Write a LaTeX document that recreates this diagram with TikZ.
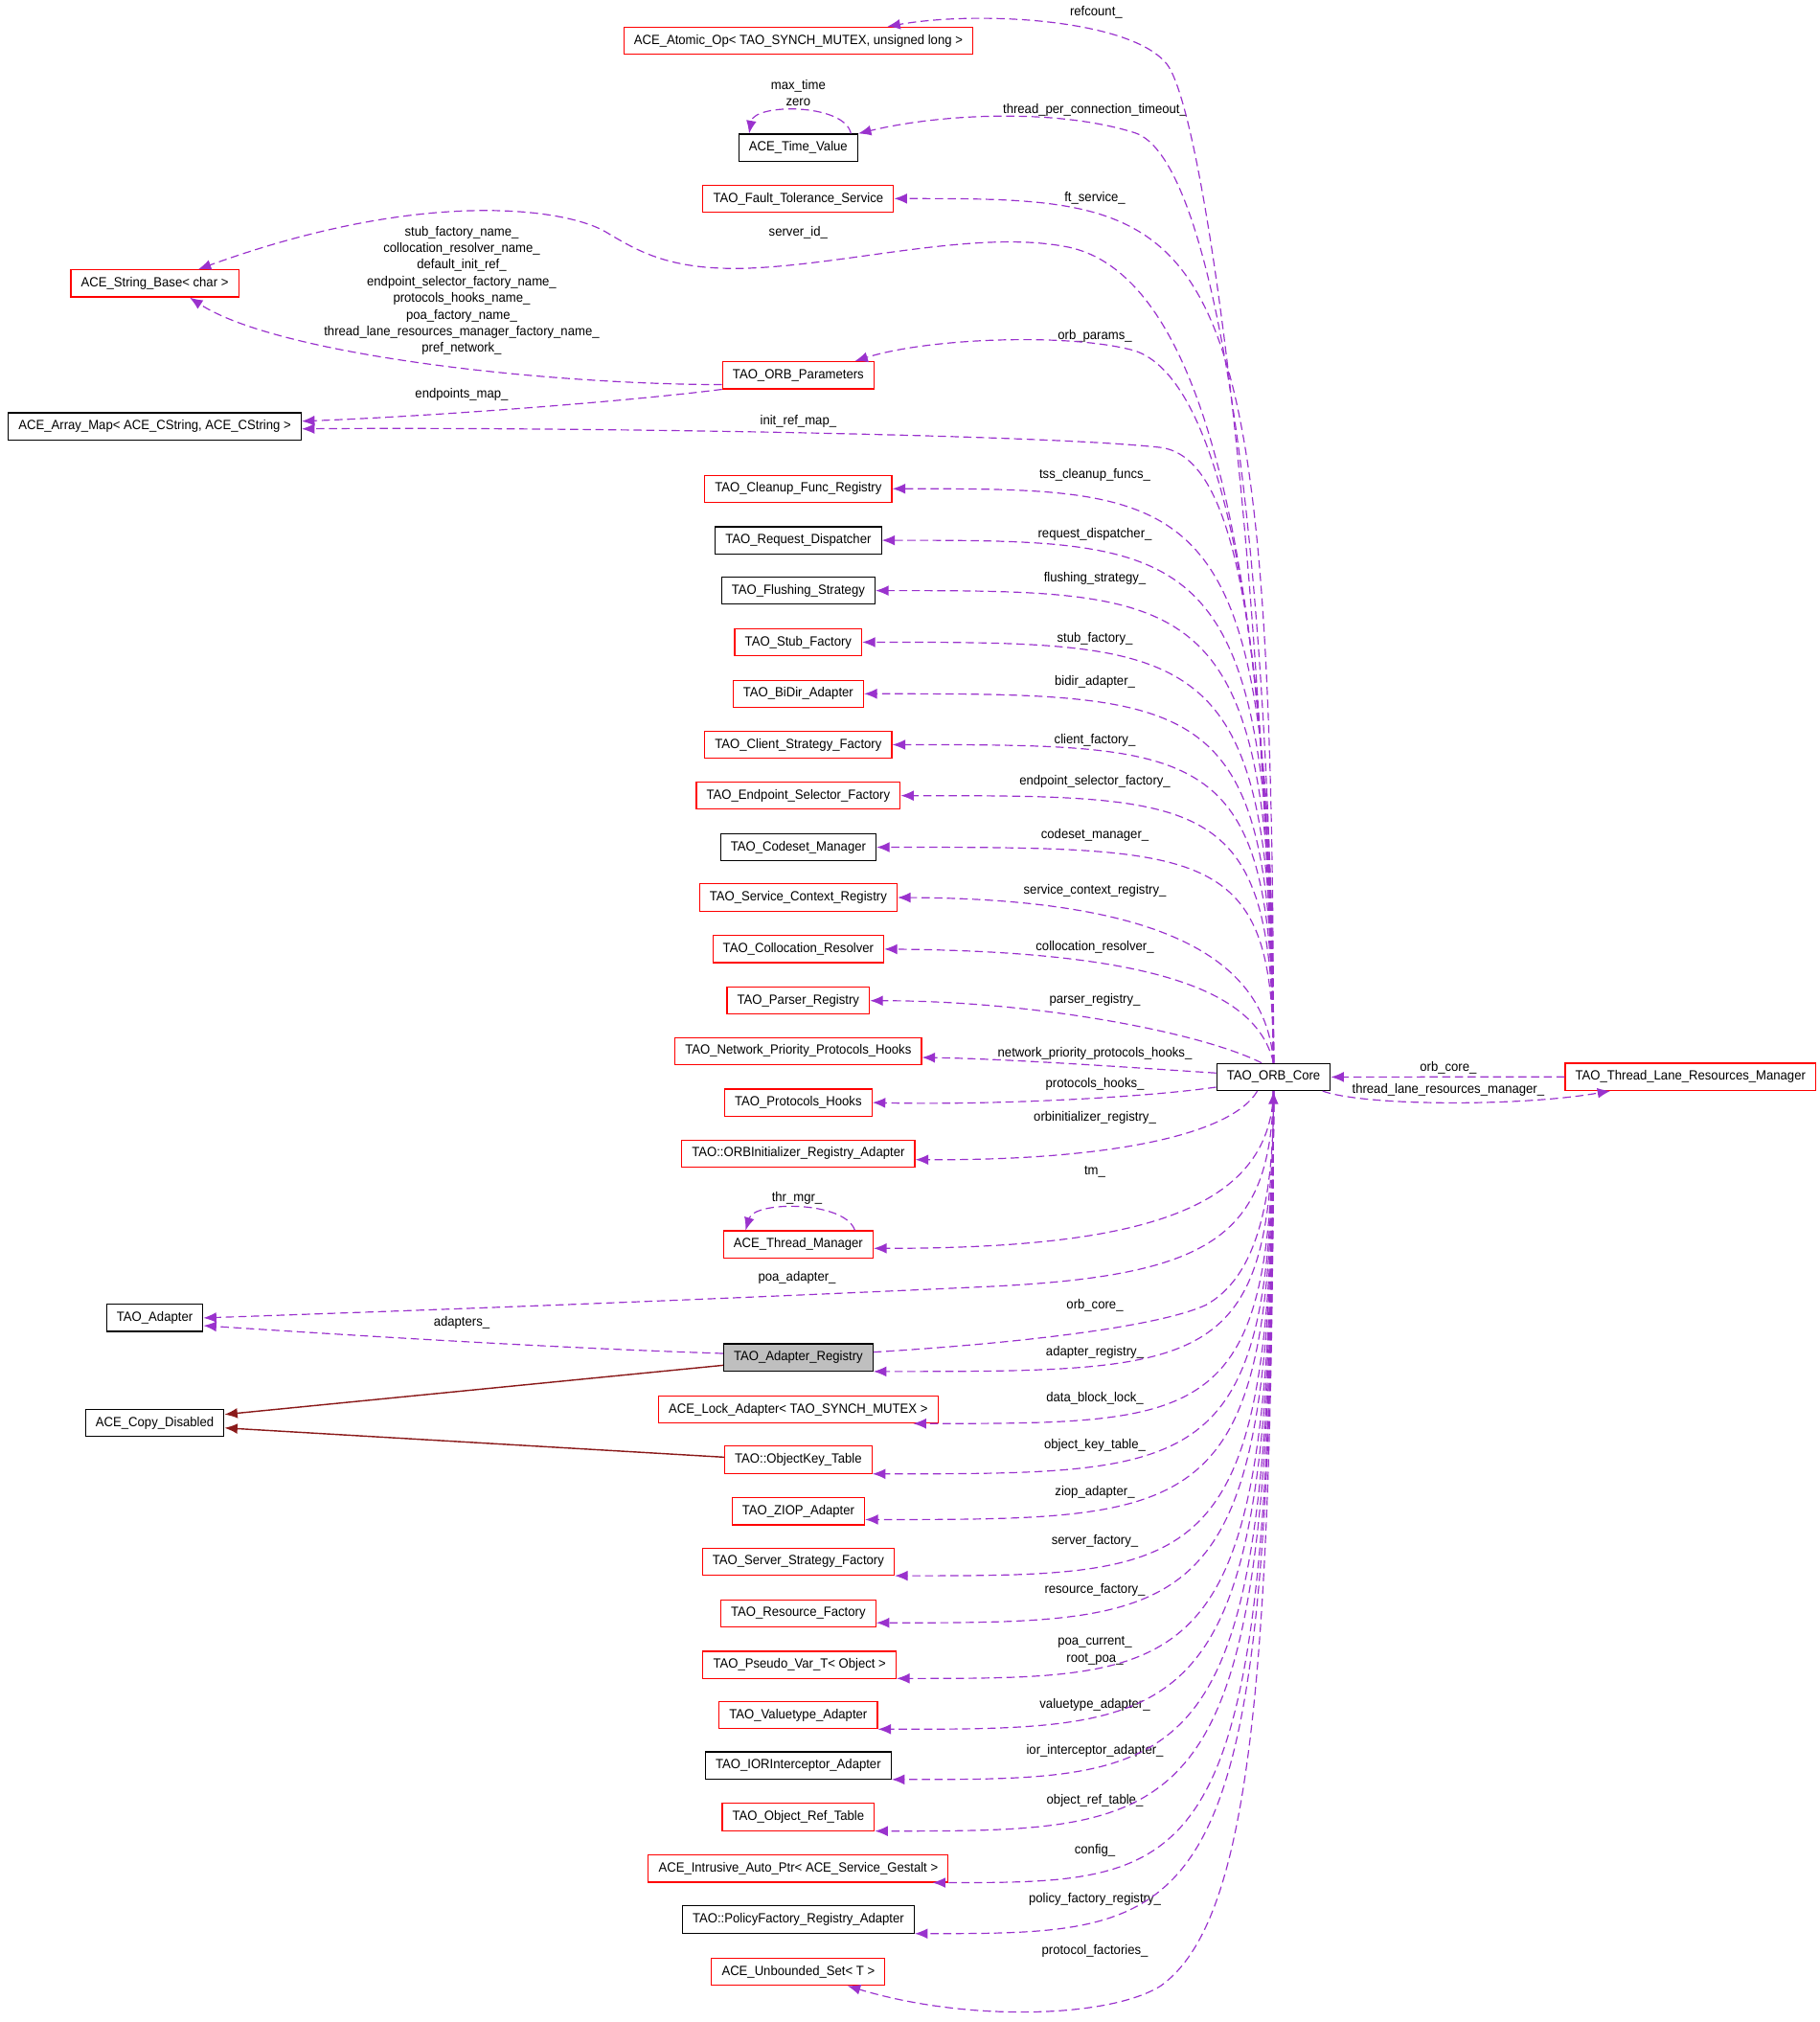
\documentclass[tikz,border=0pt]{standalone}
\usepackage{fontspec}
\setmainfont{Liberation Sans}[FakeStretch=0.94]
\usetikzlibrary{arrows.meta}
\definecolor{edgepurple}{HTML}{9A32CD}
\definecolor{boxred}{HTML}{FF0000}
\definecolor{inhred}{HTML}{8B1A1A}
\definecolor{selgray}{HTML}{BFBFBF}
\tikzset{
  cls/.style={draw=black,line width=0.5pt,rectangle,minimum height=0.42cm,inner xsep=4.5pt,inner ysep=0pt,font=\fontsize{5.9}{7.33}\selectfont},
  redcls/.style={cls,draw=boxred},
  curcls/.style={cls,fill=selgray},
  member/.style={draw=edgepurple,line width=0.5pt,dash pattern=on 3.6pt off 2pt,-{Latex[length=2mm,width=1.6mm]}},
  inherit/.style={draw=inhred,line width=0.6pt,-{Latex[length=2mm,width=1.6mm]}},
  lbl/.style={inner sep=0pt,align=center,font=\fontsize{5.9}{7.33}\selectfont}
}
\begin{document}
\begin{tikzpicture}[x=0.02cm,y=-0.02cm]
			\useasboundingbox (0,0) rectangle (1411,1568);
			\coordinate (bend) at (940,0);

			\node[redcls] (atomic) at (619,31.5) {ACE\_Atomic\_Op< TAO\_SYNCH\_MUTEX, unsigned long >};
			\node[cls] (timev) at (619,114.5) {ACE\_Time\_Value};
			\node[redcls] (ftserv) at (619,154) {TAO\_Fault\_Tolerance\_Service};
			\node[redcls] (strbase) at (120,219.8) {ACE\_String\_Base< char >};
			\node[redcls] (orbparams) at (619,291) {TAO\_ORB\_Parameters};
			\node[cls] (arraymap) at (120,330.6) {ACE\_Array\_Map< ACE\_CString, ACE\_CString >};
			\node[redcls] (cleanup) at (619,379) {TAO\_Cleanup\_Func\_Registry};
			\node[cls] (reqdisp) at (619,419) {TAO\_Request\_Dispatcher};
			\node[cls] (flush) at (619,458) {TAO\_Flushing\_Strategy};
			\node[redcls] (stubf) at (619,498) {TAO\_Stub\_Factory};
			\node[redcls] (bidir) at (619,538) {TAO\_BiDir\_Adapter};
			\node[redcls] (clientsf) at (619,577.5) {TAO\_Client\_Strategy\_Factory};
			\node[redcls] (epsel) at (619,617) {TAO\_Endpoint\_Selector\_Factory};
			\node[cls] (codeset) at (619,657) {TAO\_Codeset\_Manager};
			\node[redcls] (svcctx) at (619,696) {TAO\_Service\_Context\_Registry};
			\node[redcls] (colloc) at (619,736) {TAO\_Collocation\_Resolver};
			\node[redcls] (parser) at (619,776) {TAO\_Parser\_Registry};
			\node[redcls] (netprio) at (619,815) {TAO\_Network\_Priority\_Protocols\_Hooks};
			\node[redcls] (prothooks) at (619,855) {TAO\_Protocols\_Hooks};
			\node[redcls] (orbinit) at (619,894.5) {TAO::ORBInitializer\_Registry\_Adapter};
			\node[redcls] (thrmgr) at (619,965) {ACE\_Thread\_Manager};
			\node[cls] (adapter) at (120,1022) {TAO\_Adapter};
			\node[curcls] (adreg) at (619,1052.6) {TAO\_Adapter\_Registry};
			\node[cls] (copydis) at (120,1103.5) {ACE\_Copy\_Disabled};
			\node[redcls] (lockad) at (619,1093) {ACE\_Lock\_Adapter< TAO\_SYNCH\_MUTEX >};
			\node[redcls] (objkey) at (619,1132) {TAO::ObjectKey\_Table};
			\node[redcls] (ziop) at (619,1172) {TAO\_ZIOP\_Adapter};
			\node[redcls] (serverf) at (619,1211) {TAO\_Server\_Strategy\_Factory};
			\node[redcls] (resf) at (619,1251) {TAO\_Resource\_Factory};
			\node[redcls] (pseudo) at (620,1291) {TAO\_Pseudo\_Var\_T< Object >};
			\node[redcls] (valuet) at (619,1330) {TAO\_Valuetype\_Adapter};
			\node[cls] (iorint) at (619,1369) {TAO\_IORInterceptor\_Adapter};
			\node[redcls] (objref) at (619,1409) {TAO\_Object\_Ref\_Table};
			\node[redcls] (intrusive) at (619,1449) {ACE\_Intrusive\_Auto\_Ptr< ACE\_Service\_Gestalt >};
			\node[cls] (policyf) at (619,1488.5) {TAO::PolicyFactory\_Registry\_Adapter};
			\node[redcls] (unbset) at (619,1529) {ACE\_Unbounded\_Set< T >};
			\node[cls] (core) at (987.5,835.2) {TAO\_ORB\_Core};
			\node[redcls] (tlrm) at (1310.8,835) {TAO\_Thread\_Lane\_Resources\_Manager};

			\node[lbl] (l-refcount) at (850,9.4) {refcount\_};
			\node[lbl] (l-tpct) at (849,85.4) {thread\_per\_connection\_timeout\_};
			\node[lbl] (l-maxtime) at (619,72) {max\_time\\zero};
			\node[lbl] (l-ftserv) at (849,153.5) {ft\_service\_};
			\node[lbl] (l-serverid) at (619,180.3) {server\_id\_};
			\node[lbl] (l-names) at (358,225.35) {stub\_factory\_name\_\\collocation\_resolver\_name\_\\default\_init\_ref\_\\endpoint\_selector\_factory\_name\_\\protocols\_hooks\_name\_\\poa\_factory\_name\_\\thread\_lane\_resources\_manager\_factory\_name\_\\pref\_network\_};
			\node[lbl] (l-orbparams) at (849,261) {orb\_params\_};
			\node[lbl] (l-epmap) at (358,306) {endpoints\_map\_};
			\node[lbl] (l-initref) at (619,327) {init\_ref\_map\_};
			\node[lbl] (l-cleanup) at (849,368) {tss\_cleanup\_funcs\_};
			\node[lbl] (l-reqdisp) at (849,414.6) {request\_dispatcher\_};
			\node[lbl] (l-flush) at (849,448.7) {flushing\_strategy\_};
			\node[lbl] (l-stubf) at (849,495.5) {stub\_factory\_};
			\node[lbl] (l-bidir) at (849,528.6) {bidir\_adapter\_};
			\node[lbl] (l-clientsf) at (849,574) {client\_factory\_};
			\node[lbl] (l-epsel) at (849,606) {endpoint\_selector\_factory\_};
			\node[lbl] (l-codeset) at (849,647.5) {codeset\_manager\_};
			\node[lbl] (l-svcctx) at (849,691) {service\_context\_registry\_};
			\node[lbl] (l-colloc) at (849,734.5) {collocation\_resolver\_};
			\node[lbl] (l-parser) at (849,775.6) {parser\_registry\_};
			\node[lbl] (l-netprio) at (849,816.6) {network\_priority\_protocols\_hooks\_};
			\node[lbl] (l-prothooks) at (849,841) {protocols\_hooks\_};
			\node[lbl] (l-orbinit) at (849,867) {orbinitializer\_registry\_};
			\node[lbl] (l-tm) at (849,908.6) {tm\_};
			\node[lbl] (l-thrmgr) at (618,929) {thr\_mgr\_};
			\node[lbl] (l-poa) at (618,990.5) {poa\_adapter\_};
			\node[lbl] (l-orbcore) at (849,1012.6) {orb\_core\_};
			\node[lbl] (l-adapters) at (358,1025.7) {adapters\_};
			\node[lbl] (l-adreg) at (849,1049) {adapter\_registry\_};
			\node[lbl] (l-lockad) at (849,1084) {data\_block\_lock\_};
			\node[lbl] (l-objkey) at (849,1121) {object\_key\_table\_};
			\node[lbl] (l-ziop) at (849,1157.5) {ziop\_adapter\_};
			\node[lbl] (l-serverf) at (849,1195) {server\_factory\_};
			\node[lbl] (l-resf) at (849,1233) {resource\_factory\_};
			\node[lbl] (l-pseudo) at (849,1280) {poa\_current\_\\root\_poa\_};
			\node[lbl] (l-valuet) at (849,1322) {valuetype\_adapter\_};
			\node[lbl] (l-iorint) at (849,1358) {ior\_interceptor\_adapter\_};
			\node[lbl] (l-objref) at (849,1396.6) {object\_ref\_table\_};
			\node[lbl] (l-intrusive) at (849,1434.6) {config\_};
			\node[lbl] (l-policyf) at (849,1473) {policy\_factory\_registry\_};
			\node[lbl] (l-unbset) at (849,1513) {protocol\_factories\_};
			\node[lbl] (l-tlrmcore) at (1123,828) {orb\_core\_};
			\node[lbl] (l-coretlrm) at (1123,845) {thread\_lane\_resources\_manager\_};

			\draw[member] (core.north) .. controls (978,400) and (932,85) .. (905,50) .. controls (878,15) and (760,8) .. (atomic.9);
			\draw[member] (core.north) .. controls (985,400) and (940,122) .. (880,103) .. controls (820,84) and (730,88) .. (timev.north east);
			\draw[member] (timev.15) .. controls (655,80) and (585,80) .. (timev.164);
			\draw[member] (core.north) .. controls (core.north |- ftserv.east) and (bend |- ftserv.east) .. (ftserv.east);
			\draw[member] (core.north) .. controls (985,420) and (930,215) .. (830,192) .. controls (760,177) and (660,205) .. (580,208) .. controls (520,210) and (495,195) .. (470,180) .. controls (440,162) and (330,145) .. (strbase.18);
			\draw[member] (orbparams.-173) .. controls (420,298) and (215,275) .. (strbase.-22);
			\draw[member] (orbparams.south west) .. controls (480,312) and (330,323) .. (arraymap.2);
			\draw[member] (core.north) .. controls (985,450) and (940,292) .. (880,272) .. controls (830,258) and (720,262) .. (orbparams.14);
			\draw[member] (core.north) .. controls (983,450) and (950,354) .. (900,347) .. controls (800,336) and (400,331) .. (arraymap.-1);
			\draw[member] (core.north) .. controls (core.north |- cleanup.east) and (bend |- cleanup.east) .. (cleanup.east);
			\draw[member] (core.north) .. controls (core.north |- reqdisp.east) and (bend |- reqdisp.east) .. (reqdisp.east);
			\draw[member] (core.north) .. controls (core.north |- flush.east) and (bend |- flush.east) .. (flush.east);
			\draw[member] (core.north) .. controls (core.north |- stubf.east) and (bend |- stubf.east) .. (stubf.east);
			\draw[member] (core.north) .. controls (core.north |- bidir.east) and (bend |- bidir.east) .. (bidir.east);
			\draw[member] (core.north) .. controls (core.north |- clientsf.east) and (bend |- clientsf.east) .. (clientsf.east);
			\draw[member] (core.north) .. controls (core.north |- epsel.east) and (bend |- epsel.east) .. (epsel.east);
			\draw[member] (core.north) .. controls (core.north |- codeset.east) and (bend |- codeset.east) .. (codeset.east);
			\draw[member] (core.north) .. controls (982,745) and (905,697) .. (svcctx.east);
			\draw[member] (core.north) .. controls (975,770) and (900,738) .. (colloc.east);
			\draw[member] (core.130) .. controls (930,800) and (800,776) .. (parser.east);
			\draw[member] (core.176) .. controls (880,828) and (780,821) .. (netprio.-3);
			\draw[member] (core.190) .. controls (880,852) and (760,857) .. (prothooks.east);
			\draw[member] (core.-139) .. controls (955,880) and (860,900) .. (orbinit.-3);
			\draw[member] (core.south) .. controls (985,940) and (880,968) .. (thrmgr.-3);
			\draw[member] (thrmgr.14) .. controls (655,931) and (585,931) .. (thrmgr.165);
			\draw[member] (core.south) .. controls (985,960) and (940,990) .. (760,998) .. controls (500,1010) and (300,1017) .. (adapter.east);
			\draw[member] (adreg.177) .. controls (420,1045) and (250,1034) .. (adapter.-9);
			\draw[member] (adreg.4) .. controls (800,1041) and (900,1028) .. (935,1012) .. controls (975,990) and (987,930) .. (core.south);
			\draw[member] (core.south) .. controls (core.south |- adreg.south east) and (bend |- adreg.south east) .. (adreg.south east);
			\draw[inherit] (adreg.186) -- (copydis.7);
			\draw[inherit] (objkey.178) -- (copydis.-4);
			\draw[member] (core.south) .. controls (core.south |- lockad.-7) and (bend |- lockad.-7) .. (lockad.-7);
			\draw[member] (core.south) .. controls (core.south |- objkey.south east) and (bend |- objkey.south east) .. (objkey.south east);
			\draw[member] (core.south) .. controls (core.south |- ziop.-7) and (bend |- ziop.-7) .. (ziop.-7);
			\draw[member] (core.south) .. controls (core.south |- serverf.south east) and (bend |- serverf.south east) .. (serverf.south east);
			\draw[member] (core.south) .. controls (core.south |- resf.-7) and (bend |- resf.-7) .. (resf.-7);
			\draw[member] (core.south) .. controls (core.south |- pseudo.-8) and (bend |- pseudo.-8) .. (pseudo.-8);
			\draw[member] (core.south) .. controls (core.south |- valuet.south east) and (bend |- valuet.south east) .. (valuet.south east);
			\draw[member] (core.south) .. controls (core.south |- iorint.south east) and (bend |- iorint.south east) .. (iorint.south east);
			\draw[member] (core.south) .. controls (core.south |- objref.south east) and (bend |- objref.south east) .. (objref.south east);
			\draw[member] (core.south) .. controls (core.south |- intrusive.-6) and (bend |- intrusive.-6) .. (intrusive.-6);
			\draw[member] (core.south) .. controls (core.south |- policyf.south east) and (bend |- policyf.south east) .. (policyf.south east);
			\draw[member] (core.south) .. controls (987,1300) and (970,1490) .. (900,1540) .. controls (860,1565) and (750,1568) .. (unbset.-16);
			\draw[member] (tlrm.west) -- (core.east);
			\draw[member] (core.-16) .. controls (1060,858) and (1180,858) .. (tlrm.-170);
		\end{tikzpicture}
\end{document}
